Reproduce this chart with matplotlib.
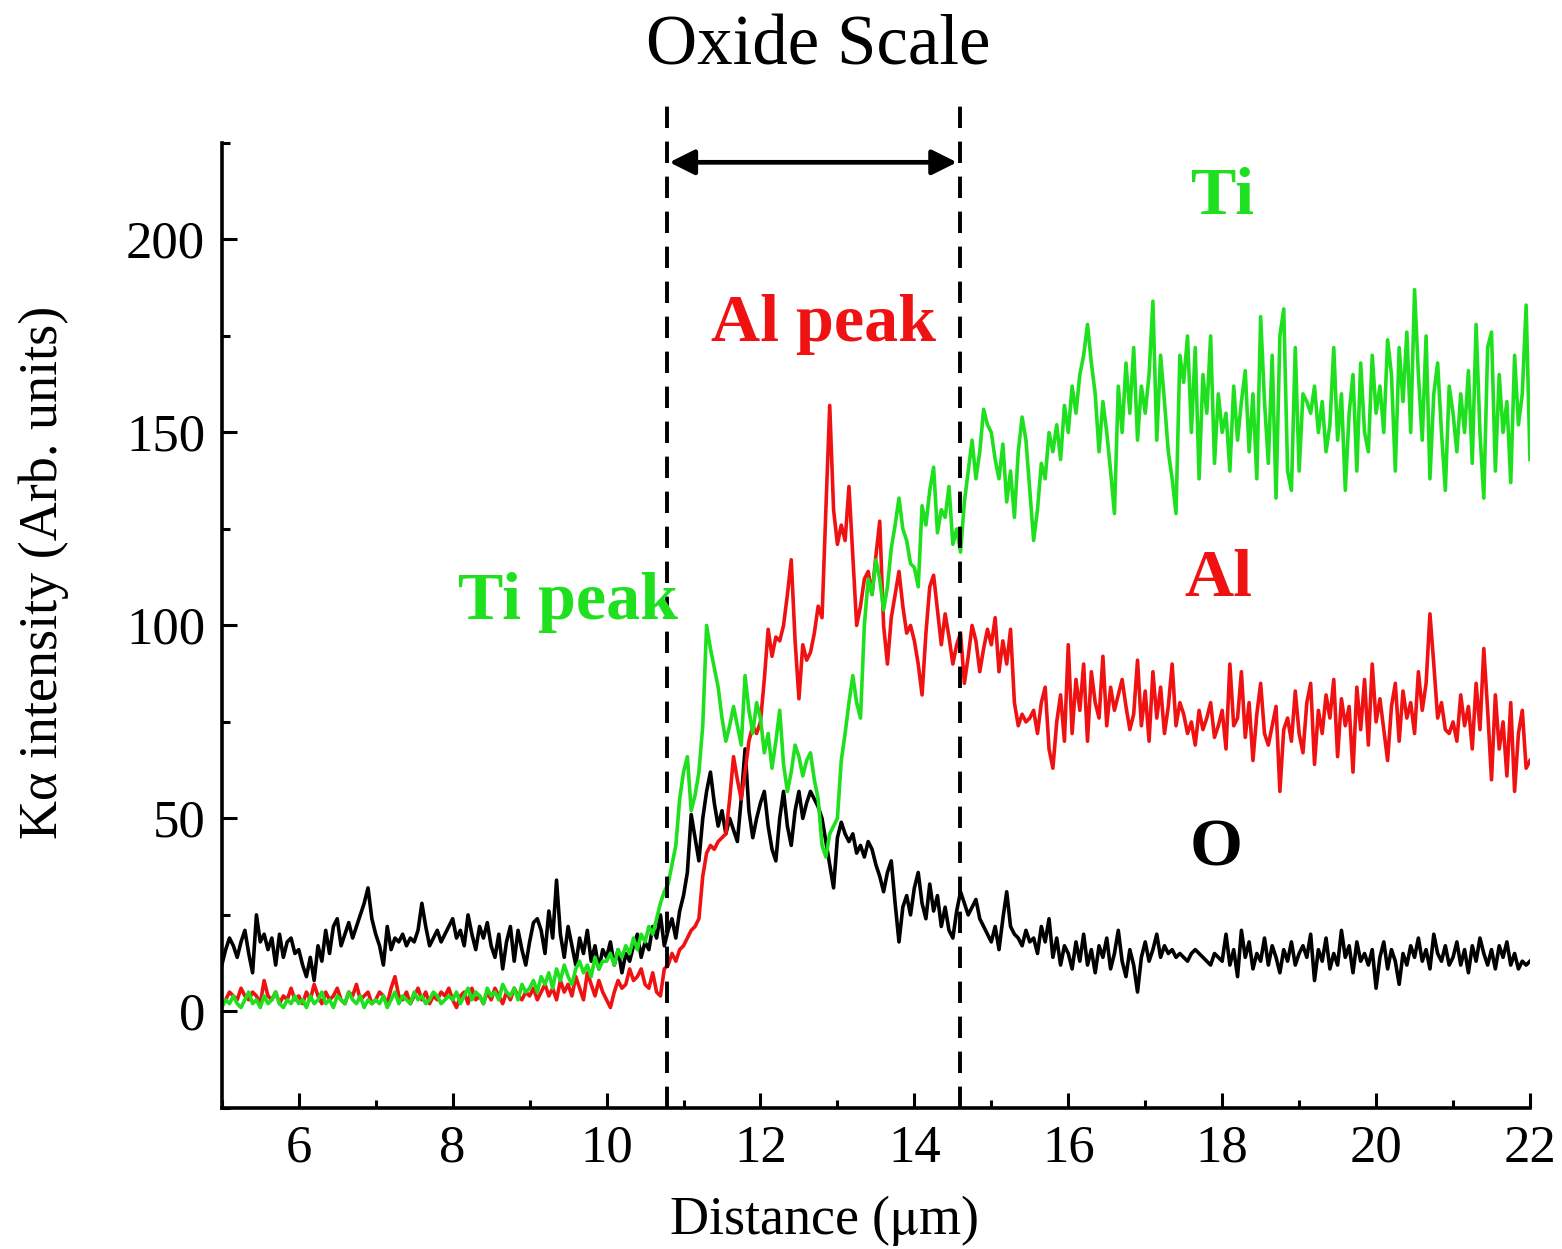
import numpy as np
import matplotlib.pyplot as plt
from matplotlib.ticker import MultipleLocator

plt.rcParams['font.family'] = ['Liberation Serif', 'DejaVu Serif']
plt.rcParams['mathtext.fontset'] = 'stix'

# sampling grid of the line scan (um), one point every 0.05 um
distance = np.linspace(5, 22, 341)

# O K-alpha
o_int = [12, 16, 19, 17, 14, 18, 21, 15, 10, 25, 18, 20, 16, 19, 12, 20, 14, 18, 19, 15,
         16, 12, 9, 14, 8, 17, 13, 21, 15, 22, 24, 17, 20, 23, 19, 22, 25, 28, 32, 24,
         20, 17, 12, 22, 16, 19, 18, 20, 17, 19, 18, 21, 28, 22, 17, 19, 21, 18, 20, 22,
         24, 19, 21, 17, 25, 20, 16, 22, 19, 23, 17, 14, 20, 11, 18, 22, 13, 21, 16, 12,
         18, 23, 24, 21, 15, 26, 19, 34, 20, 14, 22, 17, 12, 19, 15, 21, 13, 17, 11, 16,
         14, 18, 12, 16, 10, 15, 13, 17, 20, 14, 18, 16, 22, 19, 25, 17, 21, 24, 19, 26,
         30, 36, 51, 45, 39, 50, 57, 62, 54, 48, 52, 46, 50, 47, 44, 55, 68, 52, 45, 50,
         54, 57, 48, 42, 39, 50, 57, 48, 43, 52, 57, 50, 54, 57, 55, 53, 50, 44, 38, 32,
         45, 49, 46, 44, 46, 41, 43, 40, 44, 42, 38, 35, 31, 36, 39, 28, 18, 27, 30, 25,
         32, 36, 28, 24, 33, 26, 30, 22, 27, 21, 19, 26, 31, 28, 25, 27, 29, 24, 22, 20,
         18, 22, 16, 24, 31, 22, 20, 19, 17, 21, 18, 19, 15, 22, 18, 24, 14, 19, 12, 17,
         15, 11, 18, 13, 20, 12, 16, 10, 17, 14, 19, 11, 15, 21, 13, 9, 16, 12, 5, 14,
         18, 13, 16, 20, 14, 17, 15, 16, 14, 15, 14, 13, 15, 16, 15, 14, 13, 12, 15, 14,
         13, 20, 12, 16, 9, 21, 14, 18, 11, 15, 13, 19, 12, 17, 14, 10, 16, 13, 18, 12,
         15, 17, 14, 20, 8, 16, 13, 19, 11, 15, 12, 21, 14, 17, 10, 18, 13, 15, 12, 16,
         6, 14, 18, 11, 16, 13, 7, 15, 12, 17, 14, 19, 13, 16, 11, 20, 15, 13, 17, 12,
         14, 18, 12, 16, 10, 17, 13, 19, 15, 12, 16, 11, 17, 14, 18, 12, 15, 11, 13, 12,
         13]

# Al K-alpha
al_int = [2, 3, 5, 4, 3, 6, 4, 3, 5, 4, 2, 8, 4, 3, 5, 2, 4, 3, 6, 3,
          4, 2, 5, 3, 7, 4, 2, 5, 3, 4, 6, 3, 2, 5, 4, 7, 3, 4, 5, 2,
          3, 5, 4, 2, 6, 9, 4, 3, 5, 2, 4, 6, 3, 5, 2, 4, 3, 5, 4, 6,
          3, 1, 4, 5, 2, 6, 3, 4, 2, 5, 3, 6, 4, 2, 5, 3, 6, 4, 3, 5,
          4, 6, 3, 5, 7, 4, 6, 3, 8, 5, 7, 4, 9, 6, 3, 10, 7, 4, 8, 5,
          3, 1, 5, 8, 6, 7, 11, 8, 9, 11, 7, 6, 10, 5, 4, 11, 12, 15, 13, 16,
          17, 19, 21, 22, 24, 35, 41, 43, 42, 44, 45, 46, 55, 66, 60, 55, 62, 70, 74, 72,
          75, 86, 99, 92, 97, 96, 100, 108, 117, 96, 81, 95, 91, 93, 98, 105, 102, 130, 157, 130,
          121, 126, 122, 136, 118, 100, 105, 112, 114, 108, 118, 127, 100, 90, 102, 108, 114, 105, 98, 100,
          96, 90, 82, 98, 110, 113, 104, 95, 103, 97, 90, 95, 98, 85, 92, 100, 96, 88, 94, 99,
          95, 102, 88, 96, 90, 99, 80, 74, 77, 75, 76, 78, 72, 80, 84, 68, 63, 75, 82, 70,
          95, 72, 86, 78, 90, 70, 88, 80, 76, 92, 74, 84, 78, 82, 86, 79, 73, 77, 91, 74,
          83, 70, 88, 76, 84, 72, 79, 90, 74, 80, 77, 72, 75, 69, 78, 73, 76, 80, 71, 74,
          78, 68, 90, 74, 76, 88, 71, 80, 65, 77, 85, 72, 69, 74, 79, 57, 73, 76, 70, 83,
          72, 67, 80, 85, 64, 78, 72, 82, 76, 86, 66, 81, 74, 79, 62, 84, 73, 86, 69, 90,
          75, 81, 73, 65, 79, 85, 70, 83, 76, 80, 72, 88, 78, 85, 103, 90, 76, 80, 73, 72,
          75, 70, 82, 74, 79, 68, 85, 73, 94, 78, 60, 82, 68, 75, 61, 80, 57, 72, 78, 63,
          65]

# Ti K-alpha
ti_int = [1, 3, 2, 4, 2, 1, 3, 5, 2, 3, 1, 4, 2, 3, 5, 2, 1, 3, 2, 4,
          2, 3, 1, 4, 2, 3, 5, 2, 3, 1, 4, 3, 2, 5, 3, 2, 4, 1, 3, 2,
          3, 2, 4, 1, 3, 5, 2, 4, 3, 2, 5, 3, 4, 2, 3, 5, 4, 2, 3, 4,
          3, 5, 2, 4, 6, 3, 5, 4, 2, 6, 4, 5, 3, 7, 5, 4, 6, 3, 7, 5,
          6, 8, 5, 9, 7, 10, 6, 11, 8, 12, 9, 7, 11, 13, 10, 12, 9, 14, 11, 13,
          13, 15, 12, 16, 14, 17, 15, 19, 16, 20, 18, 22, 20, 24, 28, 31, 33, 38, 43, 55,
          62, 66, 52, 56, 62, 74, 100, 94, 89, 84, 76, 70, 74, 79, 74, 69, 87, 78, 72, 80,
          76, 67, 72, 63, 70, 78, 64, 57, 62, 69, 66, 61, 65, 67, 60, 55, 43, 40, 46, 48,
          50, 65, 72, 80, 87, 80, 76, 100, 112, 108, 117, 112, 104, 110, 120, 126, 133, 125, 122, 116,
          115, 110, 131, 126, 135, 141, 124, 130, 128, 136, 121, 125, 119, 132, 140, 148, 138, 145, 156, 152,
          150, 143, 138, 147, 132, 140, 128, 145, 154, 148, 135, 122, 130, 142, 138, 150, 145, 152, 143, 157,
          150, 162, 155, 165, 170, 178, 168, 160, 145, 158, 150, 140, 129, 162, 150, 168, 155, 172, 148, 162,
          155, 165, 184, 148, 170, 158, 145, 138, 129, 170, 163, 175, 150, 172, 138, 165, 155, 175, 142, 160,
          150, 155, 140, 162, 148, 158, 166, 145, 160, 138, 180, 158, 142, 170, 133, 175, 182, 140, 135, 172,
          140, 160, 158, 155, 162, 150, 158, 145, 152, 172, 148, 160, 135, 155, 165, 140, 168, 150, 145, 170,
          155, 162, 150, 174, 165, 140, 172, 158, 176, 150, 187, 165, 148, 175, 138, 160, 168, 150, 135, 162,
          155, 145, 160, 150, 166, 142, 178, 150, 133, 172, 176, 140, 165, 150, 158, 137, 170, 152, 160, 183,
          143]

# oxide scale boundaries (um)
scale_edges = [10.78, 14.59]

green = '#1fe01f'
red = '#f01212'

fig = plt.figure(figsize=(15.62, 12.49), dpi=100)
ax = fig.add_axes([0.142, 0.113, 0.8375, 0.7725])

ax.plot(distance, o_int, color='black', lw=2.6)
ax.plot(distance, al_int, color=red, lw=2.6)
ax.plot(distance, ti_int, color=green, lw=2.6)

ax.set_xlim(5, 22)
ax.set_ylim(-25, 225)

# dashed boundaries, running above the plotting area
for xe in scale_edges:
    ax.plot([xe, xe], [-25, 238], color='black', lw=2.8, dashes=(5.5, 3.5), clip_on=False)
ax.annotate('', xy=(scale_edges[0], 220), xytext=(scale_edges[1], 220),
            arrowprops=dict(arrowstyle='<|-|>', color='black', lw=3.4, mutation_scale=38),
            annotation_clip=False)
ax.text(12.75, 250, 'Oxide Scale', ha='center', va='center', fontsize=51, clip_on=False)

ax.text(9.5, 106, 'Ti peak', color=green, fontsize=49, fontweight='bold', ha='center', va='center')
ax.text(12.82, 178, 'Al peak', color=red, fontsize=49, fontweight='bold', ha='center', va='center')
ax.text(18.0, 211, 'Ti', color=green, fontsize=49, fontweight='bold', ha='center', va='center')
ax.text(17.95, 112, 'Al', color=red, fontsize=49, fontweight='bold', ha='center', va='center')
ax.text(17.92, 42, 'O', color='black', fontsize=49, fontweight='bold', ha='center', va='center')

ax.spines['top'].set_visible(False)
ax.spines['right'].set_visible(False)
ax.spines['left'].set_linewidth(2.6)
ax.spines['bottom'].set_linewidth(2.6)

ax.xaxis.set_major_locator(MultipleLocator(2))
ax.xaxis.set_minor_locator(MultipleLocator(1))
ax.yaxis.set_major_locator(MultipleLocator(50))
ax.yaxis.set_minor_locator(MultipleLocator(25))
ax.set_xticks([6, 8, 10, 12, 14, 16, 18, 20, 22])
ax.set_yticks([0, 50, 100, 150, 200])
ax.tick_params(which='both', direction='in', width=2.2, labelsize=38)
ax.tick_params(which='major', length=11, pad=12)
ax.tick_params(which='minor', length=6)

ax.set_xlabel(r'Distance ($\mathrm{\mu}$m)', fontsize=39)
ax.set_ylabel('K\u03b1 intensity (Arb. units)', fontsize=39)
ax.xaxis.set_label_coords(0.46, -0.088)
ax.yaxis.set_label_coords(-0.117, 0.555)

plt.savefig('out.png', dpi=100)
